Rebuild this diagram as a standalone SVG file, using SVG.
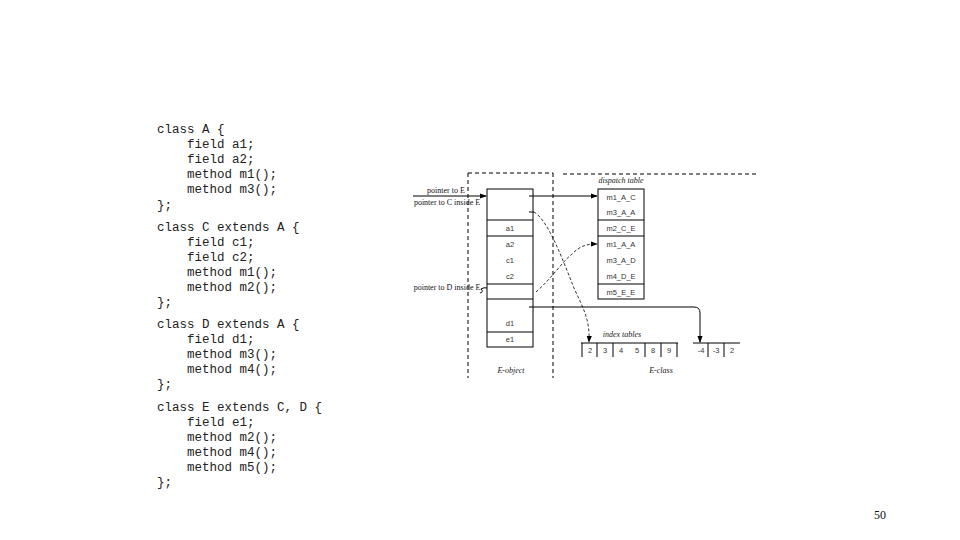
<svg xmlns="http://www.w3.org/2000/svg" width="960" height="540" viewBox="0 0 960 540">
<style>
.code{font-family:"Liberation Mono","Courier New",monospace;font-size:12.5px;fill:#222}
.lbl{font-family:"Liberation Serif","Times New Roman",serif;font-size:8px;fill:#111}
.it{font-family:"Liberation Serif","Times New Roman",serif;font-size:8px;font-style:italic;fill:#222}
.cell{font-family:"Liberation Sans",Arial,sans-serif;font-size:7.5px;fill:#333;text-anchor:middle}
.box{fill:#fff;stroke:#000;stroke-width:1}
.ln{fill:none;stroke:#000;stroke-width:1}
.dash{fill:none;stroke:#000;stroke-width:1;stroke-dasharray:4 3}
.dcurve{fill:none;stroke:#000;stroke-width:0.8;stroke-dasharray:3 2}
.pg{font-family:"Liberation Serif","Times New Roman",serif;font-size:12px;fill:#111}
</style>
<defs>
<marker id="ah" viewBox="0 0 8 8" refX="7" refY="4" markerWidth="7" markerHeight="7" orient="auto" markerUnits="userSpaceOnUse">
<path d="M0,1 L8,4 L0,7 Z" fill="#000"/>
</marker>
</defs>
<rect width="960" height="540" fill="#fff"/>
<g id="code">
<text class="code" x="157" y="133">class A {</text>
<text class="code" x="187" y="148">field a1;</text>
<text class="code" x="187" y="163">field a2;</text>
<text class="code" x="187" y="178">method m1();</text>
<text class="code" x="187" y="193">method m3();</text>
<text class="code" x="157" y="209">};</text>
<text class="code" x="157" y="231">class C extends A {</text>
<text class="code" x="187" y="246">field c1;</text>
<text class="code" x="187" y="261">field c2;</text>
<text class="code" x="187" y="276">method m1();</text>
<text class="code" x="187" y="291">method m2();</text>
<text class="code" x="157" y="306">};</text>
<text class="code" x="157" y="328">class D extends A {</text>
<text class="code" x="187" y="343">field d1;</text>
<text class="code" x="187" y="358">method m3();</text>
<text class="code" x="187" y="373">method m4();</text>
<text class="code" x="157" y="388">};</text>
<text class="code" x="157" y="411">class E extends C, D {</text>
<text class="code" x="187" y="426">field e1;</text>
<text class="code" x="187" y="441">method m2();</text>
<text class="code" x="187" y="456">method m4();</text>
<text class="code" x="187" y="471">method m5();</text>
<text class="code" x="157" y="486">};</text>
</g>
<g id="frames">
<path class="dash" d="M468,173 H553"/>
<path class="dash" d="M468,173 V378"/>
<path class="dash" d="M553,173 V378"/>
<path class="dash" d="M563,174 H758"/>
</g>
<g id="e-object">
<rect class="box" x="487" y="189" width="46" height="158"/>
<path class="ln" d="M487,220 H533 M487,236 H533 M487,284 H533 M487,299 H533 M487,332 H533"/>
<text class="cell" x="510" y="231">a1</text>
<text class="cell" x="510" y="247">a2</text>
<text class="cell" x="510" y="263">c1</text>
<text class="cell" x="510" y="279">c2</text>
<text class="cell" x="510" y="326">d1</text>
<text class="cell" x="510" y="342">e1</text>
<text class="it" x="511" y="373" text-anchor="middle">E-object</text>
</g>
<g id="labels">
<text class="lbl" x="446" y="193" text-anchor="middle">pointer to E</text>
<text class="lbl" x="447" y="205" text-anchor="middle">pointer to C inside E</text>
<text class="lbl" x="447" y="290" text-anchor="middle">pointer to D inside E</text>
</g>
<g id="dispatch-table">
<rect class="box" x="598" y="189" width="46" height="110"/>
<path class="ln" d="M598,220 H644 M598,236 H644 M598,284 H644"/>
<text class="cell" x="621" y="200">m1_A_C</text>
<text class="cell" x="621" y="215">m3_A_A</text>
<text class="cell" x="621" y="231">m2_C_E</text>
<text class="cell" x="621" y="247">m1_A_A</text>
<text class="cell" x="621" y="263">m3_A_D</text>
<text class="cell" x="621" y="279">m4_D_E</text>
<text class="cell" x="621" y="295">m5_E_E</text>
<text class="it" x="621" y="183" text-anchor="middle">dispatch table</text>
</g>
<g id="index-table-1">
<path class="ln" d="M581,343 H678 M582,343 V357 M597,343 V357 M613,343 V357 M645,343 V357 M661,343 V357 M677,343 V357"/>
<text class="cell" x="590" y="353">2</text>
<text class="cell" x="605" y="353">3</text>
<text class="cell" x="621" y="353">4</text>
<text class="cell" x="637" y="353">5</text>
<text class="cell" x="653" y="353">8</text>
<text class="cell" x="669" y="353">9</text>
<text class="it" x="622" y="337" text-anchor="middle">index tables</text>
</g>
<g id="index-table-2">
<path class="ln" d="M693,343 H740 M708,343 V357 M724,343 V357"/>
<text class="cell" x="701" y="353">-4</text>
<text class="cell" x="716" y="353">-3</text>
<text class="cell" x="732" y="353">2</text>
<text class="it" x="661" y="373" text-anchor="middle">E-class</text>
</g>
<g id="connectors">
<path class="ln" d="M413,196 H486" marker-end="url(#ah)"/>
<path class="ln" d="M480,293 Q484,292 481,289 Q484,287 487,288"/>
<path class="ln" d="M529,196 H597" marker-end="url(#ah)"/>
<path class="ln" d="M529,212 H534"/>
<path class="dcurve" d="M534,212 C548,220 562,258 574,288 C584,310 590,320 589,342" marker-end="url(#ah)"/>
<path class="dcurve" d="M536,292 C552,278 562,262 572,254 C580,246 586,244 597,244" marker-end="url(#ah)"/>
<path class="ln" d="M529,307 H694 Q700,307 700,313 V342" marker-end="url(#ah)"/>
</g>
<text class="pg" x="880" y="519" text-anchor="middle">50</text>
</svg>
